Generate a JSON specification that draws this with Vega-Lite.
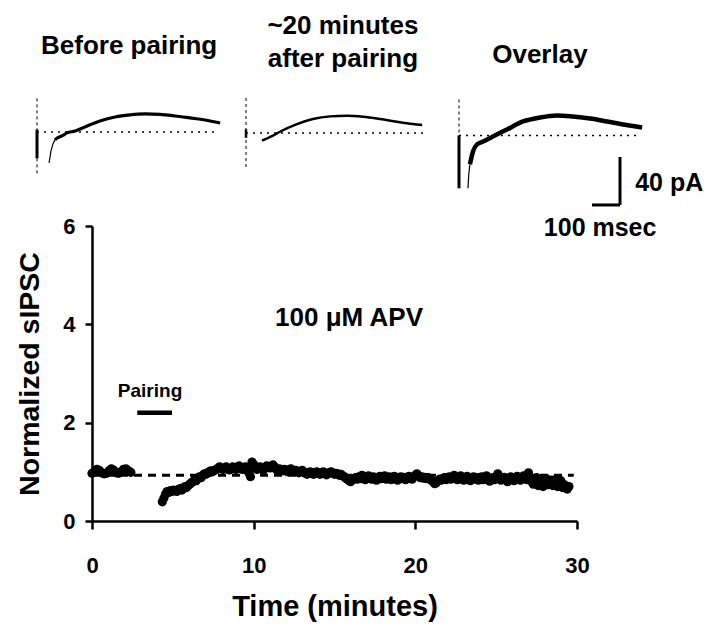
{
  "$schema": "https://vega.github.io/schema/vega-lite/v6.json",
  "background": "white",
  "padding": {"left": 15, "top": 12, "right": 5, "bottom": 5},
  "width": 485,
  "height": 295,
  "config": {
    "view": {"stroke": null},
    "font": "Liberation Sans",
    "text": {"font": "Liberation Sans", "fontWeight": "bold", "color": "black"},
    "axis": {
      "grid": false,
      "domainColor": "black", "domainWidth": 2.5,
      "tickColor": "black", "tickWidth": 2.5,
      "labelColor": "black", "labelFont": "Liberation Sans", "labelFontWeight": "bold", "labelFontSize": 22,
      "labelFlush": false, "labelOverlap": false,
      "titleColor": "black", "titleFont": "Liberation Sans", "titleFontWeight": "bold", "titleFontSize": 29
    },
    "axisX": {"tickSize": 8, "labelPadding": 26, "titlePadding": 16},
    "axisY": {"tickSize": 7, "labelPadding": 10, "titlePadding": 18, "titleFontSize": 28.5}
  },
  "datasets": {
    "anchor": [{}],
    "sweeps": [
      {"panel": "before", "part": "onset", "t": 43, "i": -25.8},
      {"panel": "before", "part": "onset", "t": 50, "i": -15.8},
      {"panel": "before", "part": "onset", "t": 57, "i": -10},
      {"panel": "before", "part": "onset", "t": 64, "i": -6.5},
      {"panel": "before", "part": "body", "t": 64, "i": -6.5},
      {"panel": "before", "part": "body", "t": 71, "i": -5.2},
      {"panel": "before", "part": "body", "t": 89, "i": -3.3},
      {"panel": "before", "part": "body", "t": 107, "i": -0.8},
      {"panel": "before", "part": "body", "t": 136, "i": 0.8},
      {"panel": "before", "part": "body", "t": 171, "i": 4.2},
      {"panel": "before", "part": "body", "t": 225, "i": 9.2},
      {"panel": "before", "part": "body", "t": 279, "i": 12.5},
      {"panel": "before", "part": "body", "t": 332, "i": 14.2},
      {"panel": "before", "part": "body", "t": 386, "i": 15},
      {"panel": "before", "part": "body", "t": 439, "i": 14.6},
      {"panel": "before", "part": "body", "t": 493, "i": 13.3},
      {"panel": "before", "part": "body", "t": 546, "i": 11.7},
      {"panel": "before", "part": "body", "t": 600, "i": 10},
      {"panel": "before", "part": "body", "t": 654, "i": 7.5},
      {"panel": "after", "part": "body", "t": 57, "i": -6.4},
      {"panel": "after", "part": "body", "t": 96, "i": -2.2},
      {"panel": "after", "part": "body", "t": 121, "i": 1.1},
      {"panel": "after", "part": "body", "t": 182, "i": 7.5},
      {"panel": "after", "part": "body", "t": 239, "i": 11.7},
      {"panel": "after", "part": "body", "t": 300, "i": 13.9},
      {"panel": "after", "part": "body", "t": 361, "i": 14.4},
      {"panel": "after", "part": "body", "t": 418, "i": 13.6},
      {"panel": "after", "part": "body", "t": 479, "i": 11.7},
      {"panel": "after", "part": "body", "t": 539, "i": 9.4},
      {"panel": "after", "part": "body", "t": 596, "i": 7.5},
      {"panel": "after", "part": "body", "t": 629, "i": 6.7},
      {"panel": "overlay", "part": "onset", "t": 32, "i": -44},
      {"panel": "overlay", "part": "onset", "t": 35, "i": -32},
      {"panel": "overlay", "part": "onset", "t": 39, "i": -24},
      {"panel": "overlay", "part": "body", "t": 39, "i": -24},
      {"panel": "overlay", "part": "body", "t": 50, "i": -13.3},
      {"panel": "overlay", "part": "body", "t": 64, "i": -7.5},
      {"panel": "overlay", "part": "body", "t": 86, "i": -5},
      {"panel": "overlay", "part": "body", "t": 121, "i": -0.8},
      {"panel": "overlay", "part": "body", "t": 171, "i": 5},
      {"panel": "overlay", "part": "body", "t": 229, "i": 11.7},
      {"panel": "overlay", "part": "body", "t": 289, "i": 15},
      {"panel": "overlay", "part": "body", "t": 350, "i": 16.7},
      {"panel": "overlay", "part": "body", "t": 407, "i": 15.8},
      {"panel": "overlay", "part": "body", "t": 468, "i": 14.2},
      {"panel": "overlay", "part": "body", "t": 529, "i": 11.7},
      {"panel": "overlay", "part": "body", "t": 586, "i": 9.2},
      {"panel": "overlay", "part": "body", "t": 654, "i": 6.7}
    ],
    "sipsc": [
      {"t": 0, "v": 0.97}, {"t": 0.15, "v": 1.0}, {"t": 0.3, "v": 1.05}, {"t": 0.45, "v": 1.03},
      {"t": 0.6, "v": 0.98}, {"t": 0.75, "v": 0.96}, {"t": 0.9, "v": 0.97}, {"t": 1.05, "v": 1.02},
      {"t": 1.2, "v": 1.06}, {"t": 1.35, "v": 1.03}, {"t": 1.5, "v": 0.98}, {"t": 1.65, "v": 0.97},
      {"t": 1.8, "v": 1.0}, {"t": 1.95, "v": 1.05}, {"t": 2.1, "v": 1.06}, {"t": 2.25, "v": 1.02},
      {"t": 2.4, "v": 0.99},
      {"t": 4.35, "v": 0.39}, {"t": 4.45, "v": 0.47}, {"t": 4.55, "v": 0.55}, {"t": 4.65, "v": 0.6},
      {"t": 4.75, "v": 0.58}, {"t": 4.85, "v": 0.62}, {"t": 4.95, "v": 0.6}, {"t": 5.05, "v": 0.63},
      {"t": 5.15, "v": 0.62}, {"t": 5.25, "v": 0.6}, {"t": 5.35, "v": 0.64}, {"t": 5.45, "v": 0.66},
      {"t": 5.55, "v": 0.63}, {"t": 5.65, "v": 0.66}, {"t": 5.75, "v": 0.7}, {"t": 5.85, "v": 0.68},
      {"t": 5.95, "v": 0.72}, {"t": 6.05, "v": 0.75}, {"t": 6.15, "v": 0.78}, {"t": 6.25, "v": 0.8},
      {"t": 6.35, "v": 0.84}, {"t": 6.45, "v": 0.82}, {"t": 6.55, "v": 0.87}, {"t": 6.65, "v": 0.9},
      {"t": 6.75, "v": 0.88}, {"t": 6.85, "v": 0.93}, {"t": 6.95, "v": 0.96}, {"t": 7.05, "v": 0.95},
      {"t": 7.15, "v": 0.98}, {"t": 7.25, "v": 1.0}, {"t": 7.35, "v": 1.02}, {"t": 7.45, "v": 1.0},
      {"t": 7.55, "v": 1.03},
      {"t": 7.6, "v": 1.03}, {"t": 7.7, "v": 1.05}, {"t": 7.8, "v": 1.08}, {"t": 7.9, "v": 1.1},
      {"t": 8.0, "v": 1.07}, {"t": 8.1, "v": 1.05}, {"t": 8.2, "v": 1.08}, {"t": 8.3, "v": 1.1},
      {"t": 8.4, "v": 1.06}, {"t": 8.5, "v": 1.04}, {"t": 8.6, "v": 1.07}, {"t": 8.7, "v": 1.1},
      {"t": 8.8, "v": 1.08}, {"t": 8.9, "v": 1.05}, {"t": 9.0, "v": 1.1}, {"t": 9.1, "v": 1.12},
      {"t": 9.2, "v": 1.08}, {"t": 9.3, "v": 1.05}, {"t": 9.4, "v": 1.09}, {"t": 9.5, "v": 1.1},
      {"t": 9.6, "v": 1.04}, {"t": 9.7, "v": 0.98}, {"t": 9.8, "v": 0.9}, {"t": 9.9, "v": 1.2},
      {"t": 10.0, "v": 1.15},
      {"t": 10.1, "v": 1.08}, {"t": 10.2, "v": 1.05}, {"t": 10.3, "v": 1.07}, {"t": 10.4, "v": 1.1},
      {"t": 10.5, "v": 1.06}, {"t": 10.6, "v": 1.03}, {"t": 10.7, "v": 1.08}, {"t": 10.8, "v": 1.12},
      {"t": 10.9, "v": 1.1}, {"t": 11.0, "v": 1.08}, {"t": 11.1, "v": 1.12}, {"t": 11.2, "v": 1.14},
      {"t": 11.3, "v": 1.1}, {"t": 11.4, "v": 1.05}, {"t": 11.5, "v": 1.03}, {"t": 11.6, "v": 1.06},
      {"t": 11.7, "v": 1.04}, {"t": 11.8, "v": 1.02}, {"t": 11.9, "v": 1.05}, {"t": 12.0, "v": 1.03},
      {"t": 12.1, "v": 1.0}, {"t": 12.2, "v": 1.04}, {"t": 12.3, "v": 1.06}, {"t": 12.4, "v": 1.02},
      {"t": 12.5, "v": 1.0}, {"t": 12.6, "v": 1.03}, {"t": 12.7, "v": 1.01}, {"t": 12.8, "v": 0.98},
      {"t": 12.9, "v": 1.01}, {"t": 13.0, "v": 1.03}, {"t": 13.1, "v": 1.0}, {"t": 13.2, "v": 0.97},
      {"t": 13.3, "v": 0.95}, {"t": 13.4, "v": 0.98}, {"t": 13.5, "v": 1.0}, {"t": 13.6, "v": 0.97},
      {"t": 13.7, "v": 0.95}, {"t": 13.8, "v": 0.98}, {"t": 13.9, "v": 1.0}, {"t": 14.0, "v": 0.97},
      {"t": 14.1, "v": 0.95}, {"t": 14.2, "v": 0.98}, {"t": 14.3, "v": 1.0}, {"t": 14.4, "v": 0.97},
      {"t": 14.5, "v": 0.94}, {"t": 14.6, "v": 0.96}, {"t": 14.7, "v": 0.99}, {"t": 14.8, "v": 1.0},
      {"t": 14.9, "v": 0.97}, {"t": 15.0, "v": 0.95}, {"t": 15.1, "v": 0.97}, {"t": 15.2, "v": 0.96},
      {"t": 15.3, "v": 0.93}, {"t": 15.4, "v": 0.95}, {"t": 15.5, "v": 0.92}, {"t": 15.6, "v": 0.9},
      {"t": 15.7, "v": 0.87}, {"t": 15.8, "v": 0.85}, {"t": 15.9, "v": 0.82}, {"t": 16.0, "v": 0.8},
      {"t": 16.1, "v": 0.84}, {"t": 16.2, "v": 0.86}, {"t": 16.3, "v": 0.88}, {"t": 16.4, "v": 0.85},
      {"t": 16.5, "v": 0.9}, {"t": 16.6, "v": 0.86}, {"t": 16.7, "v": 0.93}, {"t": 16.8, "v": 0.88},
      {"t": 16.9, "v": 0.84}, {"t": 17.0, "v": 0.89}, {"t": 17.1, "v": 0.92}, {"t": 17.2, "v": 0.87},
      {"t": 17.3, "v": 0.85}, {"t": 17.4, "v": 0.9}, {"t": 17.5, "v": 0.88}, {"t": 17.6, "v": 0.83},
      {"t": 17.7, "v": 0.87}, {"t": 17.8, "v": 0.91}, {"t": 17.9, "v": 0.86}, {"t": 18.0, "v": 0.88},
      {"t": 18.1, "v": 0.92}, {"t": 18.2, "v": 0.85}, {"t": 18.3, "v": 0.87}, {"t": 18.4, "v": 0.9},
      {"t": 18.5, "v": 0.84}, {"t": 18.6, "v": 0.88}, {"t": 18.7, "v": 0.91}, {"t": 18.8, "v": 0.86},
      {"t": 18.9, "v": 0.83}, {"t": 19.0, "v": 0.88}, {"t": 19.1, "v": 0.9}, {"t": 19.2, "v": 0.86},
      {"t": 19.3, "v": 0.89}, {"t": 19.4, "v": 0.84}, {"t": 19.5, "v": 0.87}, {"t": 19.6, "v": 0.91},
      {"t": 19.7, "v": 0.88}, {"t": 19.8, "v": 0.85}, {"t": 19.9, "v": 0.9}, {"t": 20.0, "v": 0.93},
      {"t": 20.1, "v": 0.96}, {"t": 20.2, "v": 0.92}, {"t": 20.3, "v": 0.88}, {"t": 20.4, "v": 0.9},
      {"t": 20.5, "v": 0.87}, {"t": 20.6, "v": 0.89}, {"t": 20.7, "v": 0.86}, {"t": 20.8, "v": 0.88},
      {"t": 20.9, "v": 0.85}, {"t": 21.0, "v": 0.83}, {"t": 21.1, "v": 0.8}, {"t": 21.2, "v": 0.76},
      {"t": 21.3, "v": 0.78}, {"t": 21.4, "v": 0.82}, {"t": 21.5, "v": 0.85}, {"t": 21.6, "v": 0.83},
      {"t": 21.7, "v": 0.86}, {"t": 21.8, "v": 0.88}, {"t": 21.9, "v": 0.84}, {"t": 22.0, "v": 0.87},
      {"t": 22.1, "v": 0.9}, {"t": 22.2, "v": 0.85}, {"t": 22.3, "v": 0.88}, {"t": 22.4, "v": 0.93},
      {"t": 22.5, "v": 0.86}, {"t": 22.6, "v": 0.84}, {"t": 22.7, "v": 0.89}, {"t": 22.8, "v": 0.92},
      {"t": 22.9, "v": 0.85}, {"t": 23.0, "v": 0.83}, {"t": 23.1, "v": 0.88}, {"t": 23.2, "v": 0.91},
      {"t": 23.3, "v": 0.86}, {"t": 23.4, "v": 0.82}, {"t": 23.5, "v": 0.87}, {"t": 23.6, "v": 0.9},
      {"t": 23.7, "v": 0.85}, {"t": 23.8, "v": 0.88}, {"t": 23.9, "v": 0.83}, {"t": 24.0, "v": 0.86},
      {"t": 24.1, "v": 0.9}, {"t": 24.2, "v": 0.84}, {"t": 24.3, "v": 0.87}, {"t": 24.4, "v": 0.92},
      {"t": 24.5, "v": 0.86}, {"t": 24.6, "v": 0.81}, {"t": 24.7, "v": 0.85}, {"t": 24.8, "v": 0.88},
      {"t": 24.9, "v": 0.84}, {"t": 25.0, "v": 0.9}, {"t": 25.1, "v": 0.96}, {"t": 25.2, "v": 0.87},
      {"t": 25.3, "v": 0.83}, {"t": 25.4, "v": 0.86}, {"t": 25.5, "v": 0.89}, {"t": 25.6, "v": 0.84},
      {"t": 25.7, "v": 0.8}, {"t": 25.8, "v": 0.86}, {"t": 25.9, "v": 0.9}, {"t": 26.0, "v": 0.85},
      {"t": 26.1, "v": 0.82}, {"t": 26.2, "v": 0.88}, {"t": 26.3, "v": 0.91}, {"t": 26.4, "v": 0.86},
      {"t": 26.5, "v": 0.83}, {"t": 26.6, "v": 0.87}, {"t": 26.7, "v": 0.92}, {"t": 26.8, "v": 0.88},
      {"t": 26.9, "v": 0.84}, {"t": 27.0, "v": 0.98},
      {"t": 27.1, "v": 0.85}, {"t": 27.2, "v": 0.8}, {"t": 27.3, "v": 0.75}, {"t": 27.4, "v": 0.82},
      {"t": 27.5, "v": 0.88}, {"t": 27.6, "v": 0.72}, {"t": 27.7, "v": 0.78}, {"t": 27.8, "v": 0.84},
      {"t": 27.9, "v": 0.7}, {"t": 28.0, "v": 0.79}, {"t": 28.1, "v": 0.86}, {"t": 28.2, "v": 0.74},
      {"t": 28.3, "v": 0.8}, {"t": 28.4, "v": 0.83}, {"t": 28.5, "v": 0.72}, {"t": 28.6, "v": 0.78},
      {"t": 28.7, "v": 0.85}, {"t": 28.8, "v": 0.7}, {"t": 28.9, "v": 0.76}, {"t": 29.0, "v": 0.82},
      {"t": 29.1, "v": 0.68}, {"t": 29.2, "v": 0.74}, {"t": 29.3, "v": 0.7}, {"t": 29.4, "v": 0.65},
      {"t": 29.5, "v": 0.7}
    ]
  },
  "data": {"name": "anchor"},
  "resolve": {"scale": {"x": "independent", "y": "independent"}, "axis": {"x": "independent", "y": "independent"}},
  "layer": [
    {
      "layer": [
        {
          "mark": {"type": "rule", "color": "black", "strokeWidth": 3, "strokeDash": [8, 6]},
          "encoding": {
            "x": {"datum": 0, "type": "quantitative", "scale": {"domain": [0, 30], "nice": false}, "axis": {"values": [0, 10, 20, 30], "title": "Time (minutes)"}},
            "x2": {"datum": 29.8},
            "y": {"datum": 0.93, "type": "quantitative", "scale": {"domain": [0, 6], "nice": false}, "axis": {"values": [0, 2, 4, 6], "title": "Normalized sIPSC"}}
          }
        },
        {
          "data": {"name": "sipsc"},
          "mark": {"type": "circle", "size": 85, "color": "black", "opacity": 1},
          "encoding": {
            "x": {"field": "t", "type": "quantitative", "axis": {"values": [0, 10, 20, 30], "title": "Time (minutes)"}},
            "y": {"field": "v", "type": "quantitative", "axis": {"values": [0, 2, 4, 6], "title": "Normalized sIPSC"}}
          }
        },
        {
          "mark": {"type": "rule", "color": "black", "strokeWidth": 4.5},
          "encoding": {"x": {"datum": 2.8}, "x2": {"datum": 4.95}, "y": {"datum": 2.2}}
        },
        {
          "mark": {"type": "text", "text": "Pairing", "fontSize": 19},
          "encoding": {"x": {"datum": 3.59}, "y": {"datum": 2.64}}
        },
        {
          "mark": {"type": "text", "text": "100 μM APV", "fontSize": 26},
          "encoding": {"x": {"datum": 15.9}, "y": {"datum": 4.13}}
        }
      ]
    },
    {
      "layer": [
        {
          "mark": {"type": "rule", "color": "black", "strokeWidth": 1, "strokeDash": [3, 3]},
          "encoding": {
            "x": {"datum": 0, "type": "quantitative", "scale": {"domain": [196.4, 1928.6], "nice": false, "zero": false}, "axis": null},
            "y": {"datum": 28, "type": "quantitative", "scale": {"domain": [-324.2, -78.37], "nice": false, "zero": false}, "axis": null},
            "y2": {"datum": -37}
          }
        },
        {
          "mark": {"type": "rule", "color": "black", "strokeWidth": 1.6, "strokeDash": [2, 5]},
          "encoding": {"x": {"datum": 0}, "x2": {"datum": 636}, "y": {"datum": 0}}
        },
        {
          "mark": {"type": "rule", "color": "black", "strokeWidth": 3},
          "encoding": {"x": {"datum": 0}, "y": {"datum": 2}, "y2": {"datum": -22}}
        },
        {
          "data": {"name": "sweeps"},
          "transform": [{"filter": "datum.panel === 'before' && datum.part === 'onset'"}],
          "mark": {"type": "line", "color": "black", "strokeWidth": 1.2},
          "encoding": {"x": {"field": "t", "type": "quantitative"}, "y": {"field": "i", "type": "quantitative"}}
        },
        {
          "data": {"name": "sweeps"},
          "transform": [{"filter": "datum.panel === 'before' && datum.part === 'body'"}],
          "mark": {"type": "line", "color": "black", "strokeWidth": 3.2, "interpolate": "monotone"},
          "encoding": {"x": {"field": "t", "type": "quantitative"}, "y": {"field": "i", "type": "quantitative"}}
        },
        {
          "mark": {"type": "text", "text": "Before pairing", "fontSize": 26},
          "encoding": {"x": {"datum": 329}, "y": {"datum": 71.7}}
        }
      ]
    },
    {
      "layer": [
        {
          "mark": {"type": "rule", "color": "black", "strokeWidth": 1, "strokeDash": [3, 3]},
          "encoding": {
            "x": {"datum": 0, "type": "quantitative", "scale": {"domain": [-550, 1182.1], "nice": false, "zero": false}, "axis": null},
            "y": {"datum": 29.2, "type": "quantitative", "scale": {"domain": [-323.3, -77.47], "nice": false, "zero": false}, "axis": null},
            "y2": {"datum": -30}
          }
        },
        {
          "mark": {"type": "rule", "color": "black", "strokeWidth": 1.6, "strokeDash": [2, 5]},
          "encoding": {"x": {"datum": 0}, "x2": {"datum": 650}, "y": {"datum": 0}}
        },
        {
          "mark": {"type": "rule", "color": "black", "strokeWidth": 2.5},
          "encoding": {"x": {"datum": 0}, "y": {"datum": 3}, "y2": {"datum": -4}}
        },
        {
          "data": {"name": "sweeps"},
          "transform": [{"filter": "datum.panel === 'after'"}],
          "mark": {"type": "line", "color": "black", "strokeWidth": 2.4, "interpolate": "monotone"},
          "encoding": {"x": {"field": "t", "type": "quantitative"}, "y": {"field": "i", "type": "quantitative"}}
        },
        {
          "mark": {"type": "text", "text": "~20 minutes", "fontSize": 26},
          "encoding": {"x": {"datum": 346}, "y": {"datum": 89.2}}
        },
        {
          "mark": {"type": "text", "text": "after pairing", "fontSize": 26},
          "encoding": {"x": {"datum": 346}, "y": {"datum": 61.7}}
        }
      ]
    },
    {
      "layer": [
        {
          "mark": {"type": "rule", "color": "black", "strokeWidth": 1, "strokeDash": [3, 3]},
          "encoding": {
            "x": {"datum": 0, "type": "quantitative", "scale": {"domain": [-1310.7, 421.4], "nice": false, "zero": false}, "axis": null},
            "y": {"datum": 30, "type": "quantitative", "scale": {"domain": [-321.25, -75.42], "nice": false, "zero": false}, "axis": null},
            "y2": {"datum": -44}
          }
        },
        {
          "mark": {"type": "rule", "color": "black", "strokeWidth": 1.6, "strokeDash": [2, 5]},
          "encoding": {"x": {"datum": 0}, "x2": {"datum": 646}, "y": {"datum": 0}}
        },
        {
          "mark": {"type": "rule", "color": "black", "strokeWidth": 3},
          "encoding": {"x": {"datum": 0}, "y": {"datum": 0}, "y2": {"datum": -44}}
        },
        {
          "data": {"name": "sweeps"},
          "transform": [{"filter": "datum.panel === 'overlay' && datum.part === 'onset'"}],
          "mark": {"type": "line", "color": "black", "strokeWidth": 1.2},
          "encoding": {"x": {"field": "t", "type": "quantitative"}, "y": {"field": "i", "type": "quantitative"}}
        },
        {
          "data": {"name": "sweeps"},
          "transform": [{"filter": "datum.panel === 'overlay' && datum.part === 'body'"}],
          "mark": {"type": "line", "color": "black", "strokeWidth": 4.5, "interpolate": "monotone"},
          "encoding": {"x": {"field": "t", "type": "quantitative"}, "y": {"field": "i", "type": "quantitative"}}
        },
        {
          "mark": {"type": "rule", "color": "black", "strokeWidth": 3},
          "encoding": {"x": {"datum": 575}, "y": {"datum": -17.9}, "y2": {"datum": -57.9}}
        },
        {
          "mark": {"type": "rule", "color": "black", "strokeWidth": 3},
          "encoding": {"x": {"datum": 475}, "x2": {"datum": 575}, "y": {"datum": -57.9}}
        },
        {
          "mark": {"type": "text", "text": "40 pA", "fontSize": 25, "align": "left"},
          "encoding": {"x": {"datum": 629}, "y": {"datum": -39.6}}
        },
        {
          "mark": {"type": "text", "text": "100 msec", "fontSize": 25},
          "encoding": {"x": {"datum": 504}, "y": {"datum": -77.1}}
        },
        {
          "mark": {"type": "text", "text": "Overlay", "fontSize": 26},
          "encoding": {"x": {"datum": 289}, "y": {"datum": 67.1}}
        }
      ]
    }
  ]
}
